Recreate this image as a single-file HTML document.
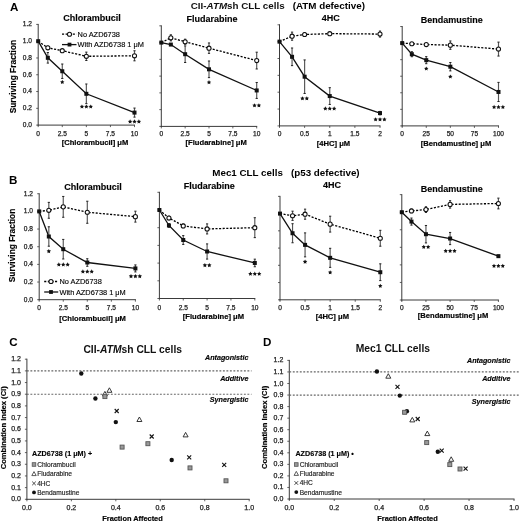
<!DOCTYPE html>
<html><head><meta charset="utf-8"><style>
html,body{margin:0;padding:0;background:#fff;}
svg{display:block;will-change:transform;}
text{font-family:"Liberation Sans", sans-serif;}
</style></head><body>
<svg width="520" height="522" viewBox="0 0 520 522">
<rect width="520" height="522" fill="#fff"/>
<line x1="38.20" y1="23.92" x2="38.20" y2="125.60" stroke="#3a3a3a" stroke-width="1" />
<line x1="37.70" y1="125.10" x2="135.00" y2="125.10" stroke="#3a3a3a" stroke-width="1" />
<line x1="36.20" y1="125.10" x2="38.20" y2="125.10" stroke="#3a3a3a" stroke-width="0.8" />
<line x1="36.20" y1="108.32" x2="38.20" y2="108.32" stroke="#3a3a3a" stroke-width="0.8" />
<line x1="36.20" y1="91.54" x2="38.20" y2="91.54" stroke="#3a3a3a" stroke-width="0.8" />
<line x1="36.20" y1="74.76" x2="38.20" y2="74.76" stroke="#3a3a3a" stroke-width="0.8" />
<line x1="36.20" y1="57.98" x2="38.20" y2="57.98" stroke="#3a3a3a" stroke-width="0.8" />
<line x1="36.20" y1="41.20" x2="38.20" y2="41.20" stroke="#3a3a3a" stroke-width="0.8" />
<line x1="36.20" y1="24.42" x2="38.20" y2="24.42" stroke="#3a3a3a" stroke-width="0.8" />
<line x1="38.20" y1="125.10" x2="38.20" y2="127.10" stroke="#3a3a3a" stroke-width="0.8" />
<line x1="62.28" y1="125.10" x2="62.28" y2="127.10" stroke="#3a3a3a" stroke-width="0.8" />
<line x1="86.35" y1="125.10" x2="86.35" y2="127.10" stroke="#3a3a3a" stroke-width="0.8" />
<line x1="110.43" y1="125.10" x2="110.43" y2="127.10" stroke="#3a3a3a" stroke-width="0.8" />
<line x1="134.50" y1="125.10" x2="134.50" y2="127.10" stroke="#3a3a3a" stroke-width="0.8" />
<text x="38.20" y="136.20" font-size="6.6" stroke="#222" stroke-width="0.25" text-anchor="middle" fill="#222" >0</text>
<text x="62.28" y="136.20" font-size="6.6" stroke="#222" stroke-width="0.25" text-anchor="middle" fill="#222" >2.5</text>
<text x="86.35" y="136.20" font-size="6.6" stroke="#222" stroke-width="0.25" text-anchor="middle" fill="#222" >5</text>
<text x="110.43" y="136.20" font-size="6.6" stroke="#222" stroke-width="0.25" text-anchor="middle" fill="#222" >7.5</text>
<text x="134.50" y="136.20" font-size="6.6" stroke="#222" stroke-width="0.25" text-anchor="middle" fill="#222" >10</text>
<text x="32.00" y="127.00" font-size="6.6" stroke="#222" stroke-width="0.25" text-anchor="end" fill="#222" >0.0</text>
<text x="32.00" y="110.22" font-size="6.6" stroke="#222" stroke-width="0.25" text-anchor="end" fill="#222" >0.2</text>
<text x="32.00" y="93.44" font-size="6.6" stroke="#222" stroke-width="0.25" text-anchor="end" fill="#222" >0.4</text>
<text x="32.00" y="76.66" font-size="6.6" stroke="#222" stroke-width="0.25" text-anchor="end" fill="#222" >0.6</text>
<text x="32.00" y="59.88" font-size="6.6" stroke="#222" stroke-width="0.25" text-anchor="end" fill="#222" >0.8</text>
<text x="32.00" y="43.10" font-size="6.6" stroke="#222" stroke-width="0.25" text-anchor="end" fill="#222" >1.0</text>
<text x="32.00" y="26.32" font-size="6.6" stroke="#222" stroke-width="0.25" text-anchor="end" fill="#222" >1.2</text>
<polyline points="38.20,41.20 47.83,47.83 62.28,50.68 86.35,56.30 134.50,55.80" fill="none" stroke="#000" stroke-width="1.3" stroke-dasharray="2.1,1.5"/>
<polyline points="38.20,41.20 47.83,57.81 62.28,71.24 86.35,93.81 134.50,112.60" fill="none" stroke="#111" stroke-width="1.3"/>
<line x1="47.83" y1="46.15" x2="47.83" y2="49.51" stroke="#555" stroke-width="1.15" />
<line x1="46.73" y1="46.15" x2="48.93" y2="46.15" stroke="#222" stroke-width="1" />
<line x1="46.73" y1="49.51" x2="48.93" y2="49.51" stroke="#222" stroke-width="1" />
<line x1="62.28" y1="49.42" x2="62.28" y2="51.94" stroke="#555" stroke-width="1.15" />
<line x1="61.18" y1="49.42" x2="63.38" y2="49.42" stroke="#222" stroke-width="1" />
<line x1="61.18" y1="51.94" x2="63.38" y2="51.94" stroke="#222" stroke-width="1" />
<line x1="86.35" y1="52.11" x2="86.35" y2="60.50" stroke="#555" stroke-width="1.15" />
<line x1="85.25" y1="52.11" x2="87.45" y2="52.11" stroke="#222" stroke-width="1" />
<line x1="85.25" y1="60.50" x2="87.45" y2="60.50" stroke="#222" stroke-width="1" />
<line x1="134.50" y1="50.76" x2="134.50" y2="60.83" stroke="#555" stroke-width="1.15" />
<line x1="133.40" y1="50.76" x2="135.60" y2="50.76" stroke="#222" stroke-width="1" />
<line x1="133.40" y1="60.83" x2="135.60" y2="60.83" stroke="#222" stroke-width="1" />
<line x1="47.83" y1="52.53" x2="47.83" y2="63.10" stroke="#555" stroke-width="1.15" />
<line x1="46.73" y1="52.53" x2="48.93" y2="52.53" stroke="#222" stroke-width="1" />
<line x1="46.73" y1="63.10" x2="48.93" y2="63.10" stroke="#222" stroke-width="1" />
<line x1="62.28" y1="64.02" x2="62.28" y2="78.45" stroke="#555" stroke-width="1.15" />
<line x1="61.18" y1="64.02" x2="63.38" y2="64.02" stroke="#222" stroke-width="1" />
<line x1="61.18" y1="78.45" x2="63.38" y2="78.45" stroke="#222" stroke-width="1" />
<line x1="86.35" y1="83.99" x2="86.35" y2="103.62" stroke="#555" stroke-width="1.15" />
<line x1="85.25" y1="83.99" x2="87.45" y2="83.99" stroke="#222" stroke-width="1" />
<line x1="85.25" y1="103.62" x2="87.45" y2="103.62" stroke="#222" stroke-width="1" />
<line x1="134.50" y1="108.07" x2="134.50" y2="117.13" stroke="#555" stroke-width="1.15" />
<line x1="133.40" y1="108.07" x2="135.60" y2="108.07" stroke="#222" stroke-width="1" />
<line x1="133.40" y1="117.13" x2="135.60" y2="117.13" stroke="#222" stroke-width="1" />
<circle cx="47.83" cy="47.83" r="2.05" fill="#fff" stroke="#111" stroke-width="1.05"/>
<circle cx="62.28" cy="50.68" r="2.05" fill="#fff" stroke="#111" stroke-width="1.05"/>
<circle cx="86.35" cy="56.30" r="2.05" fill="#fff" stroke="#111" stroke-width="1.05"/>
<circle cx="134.50" cy="55.80" r="2.05" fill="#fff" stroke="#111" stroke-width="1.05"/>
<rect x="36.20" y="39.20" width="4.0" height="4.0" fill="#111"/>
<rect x="45.83" y="55.81" width="4.0" height="4.0" fill="#111"/>
<rect x="60.28" y="69.24" width="4.0" height="4.0" fill="#111"/>
<rect x="84.35" y="91.81" width="4.0" height="4.0" fill="#111"/>
<rect x="132.50" y="110.60" width="4.0" height="4.0" fill="#111"/>
<polygon points="62.28,79.80 62.95,81.17 64.46,81.39 63.37,82.46 63.63,83.96 62.28,83.25 60.92,83.96 61.18,82.46 60.09,81.39 61.60,81.17" fill="#111"/>
<polygon points="81.95,104.40 82.63,105.77 84.14,105.99 83.04,107.06 83.30,108.56 81.95,107.85 80.60,108.56 80.86,107.06 79.76,105.99 81.27,105.77" fill="#111"/>
<polygon points="86.35,104.40 87.03,105.77 88.54,105.99 87.44,107.06 87.70,108.56 86.35,107.85 85.00,108.56 85.26,107.06 84.16,105.99 85.67,105.77" fill="#111"/>
<polygon points="90.75,104.40 91.43,105.77 92.94,105.99 91.84,107.06 92.10,108.56 90.75,107.85 89.40,108.56 89.66,107.06 88.56,105.99 90.07,105.77" fill="#111"/>
<polygon points="130.10,119.30 130.78,120.67 132.29,120.89 131.19,121.96 131.45,123.46 130.10,122.75 128.75,123.46 129.01,121.96 127.91,120.89 129.42,120.67" fill="#111"/>
<polygon points="134.50,119.30 135.18,120.67 136.69,120.89 135.59,121.96 135.85,123.46 134.50,122.75 133.15,123.46 133.41,121.96 132.31,120.89 133.82,120.67" fill="#111"/>
<polygon points="138.90,119.30 139.58,120.67 141.09,120.89 139.99,121.96 140.25,123.46 138.90,122.75 137.55,123.46 137.81,121.96 136.71,120.89 138.22,120.67" fill="#111"/>
<text x="92.10" y="21.10" font-size="9" stroke="#111" stroke-width="0.15" font-weight="bold" text-anchor="middle" >Chlorambucil</text>
<text x="95.00" y="144.50" font-size="7.6" stroke="#111" stroke-width="0.2" font-weight="bold" text-anchor="middle" >[Chlorambucil] μM</text>
<line x1="161.30" y1="25.34" x2="161.30" y2="126.90" stroke="#3a3a3a" stroke-width="1" />
<line x1="160.80" y1="126.40" x2="257.20" y2="126.40" stroke="#3a3a3a" stroke-width="1" />
<line x1="159.30" y1="126.40" x2="161.30" y2="126.40" stroke="#3a3a3a" stroke-width="0.8" />
<line x1="159.30" y1="109.64" x2="161.30" y2="109.64" stroke="#3a3a3a" stroke-width="0.8" />
<line x1="159.30" y1="92.88" x2="161.30" y2="92.88" stroke="#3a3a3a" stroke-width="0.8" />
<line x1="159.30" y1="76.12" x2="161.30" y2="76.12" stroke="#3a3a3a" stroke-width="0.8" />
<line x1="159.30" y1="59.36" x2="161.30" y2="59.36" stroke="#3a3a3a" stroke-width="0.8" />
<line x1="159.30" y1="42.60" x2="161.30" y2="42.60" stroke="#3a3a3a" stroke-width="0.8" />
<line x1="159.30" y1="25.84" x2="161.30" y2="25.84" stroke="#3a3a3a" stroke-width="0.8" />
<line x1="161.30" y1="126.40" x2="161.30" y2="128.40" stroke="#3a3a3a" stroke-width="0.8" />
<line x1="185.15" y1="126.40" x2="185.15" y2="128.40" stroke="#3a3a3a" stroke-width="0.8" />
<line x1="209.00" y1="126.40" x2="209.00" y2="128.40" stroke="#3a3a3a" stroke-width="0.8" />
<line x1="232.85" y1="126.40" x2="232.85" y2="128.40" stroke="#3a3a3a" stroke-width="0.8" />
<line x1="256.70" y1="126.40" x2="256.70" y2="128.40" stroke="#3a3a3a" stroke-width="0.8" />
<text x="161.30" y="136.20" font-size="6.6" stroke="#222" stroke-width="0.25" text-anchor="middle" fill="#222" >0</text>
<text x="185.15" y="136.20" font-size="6.6" stroke="#222" stroke-width="0.25" text-anchor="middle" fill="#222" >2.5</text>
<text x="209.00" y="136.20" font-size="6.6" stroke="#222" stroke-width="0.25" text-anchor="middle" fill="#222" >5</text>
<text x="232.85" y="136.20" font-size="6.6" stroke="#222" stroke-width="0.25" text-anchor="middle" fill="#222" >7.5</text>
<text x="256.70" y="136.20" font-size="6.6" stroke="#222" stroke-width="0.25" text-anchor="middle" fill="#222" >10</text>
<polyline points="161.30,42.60 170.84,37.84 185.15,41.70 209.00,48.16 256.70,60.58" fill="none" stroke="#000" stroke-width="1.3" stroke-dasharray="2.1,1.5"/>
<polyline points="161.30,42.60 170.84,44.56 185.15,54.20 209.00,69.31 256.70,90.45" fill="none" stroke="#111" stroke-width="1.3"/>
<line x1="170.84" y1="34.82" x2="170.84" y2="40.86" stroke="#555" stroke-width="1.15" />
<line x1="169.74" y1="34.82" x2="171.94" y2="34.82" stroke="#222" stroke-width="1" />
<line x1="169.74" y1="40.86" x2="171.94" y2="40.86" stroke="#222" stroke-width="1" />
<line x1="185.15" y1="39.19" x2="185.15" y2="44.22" stroke="#555" stroke-width="1.15" />
<line x1="184.05" y1="39.19" x2="186.25" y2="39.19" stroke="#222" stroke-width="1" />
<line x1="184.05" y1="44.22" x2="186.25" y2="44.22" stroke="#222" stroke-width="1" />
<line x1="209.00" y1="42.96" x2="209.00" y2="53.37" stroke="#555" stroke-width="1.15" />
<line x1="207.90" y1="42.96" x2="210.10" y2="42.96" stroke="#222" stroke-width="1" />
<line x1="207.90" y1="53.37" x2="210.10" y2="53.37" stroke="#222" stroke-width="1" />
<line x1="256.70" y1="52.19" x2="256.70" y2="68.97" stroke="#555" stroke-width="1.15" />
<line x1="255.60" y1="52.19" x2="257.80" y2="52.19" stroke="#222" stroke-width="1" />
<line x1="255.60" y1="68.97" x2="257.80" y2="68.97" stroke="#222" stroke-width="1" />
<line x1="170.84" y1="43.72" x2="170.84" y2="45.39" stroke="#555" stroke-width="1.15" />
<line x1="169.74" y1="43.72" x2="171.94" y2="43.72" stroke="#222" stroke-width="1" />
<line x1="169.74" y1="45.39" x2="171.94" y2="45.39" stroke="#222" stroke-width="1" />
<line x1="185.15" y1="45.90" x2="185.15" y2="62.51" stroke="#555" stroke-width="1.15" />
<line x1="184.05" y1="45.90" x2="186.25" y2="45.90" stroke="#222" stroke-width="1" />
<line x1="184.05" y1="62.51" x2="186.25" y2="62.51" stroke="#222" stroke-width="1" />
<line x1="209.00" y1="61.00" x2="209.00" y2="77.61" stroke="#555" stroke-width="1.15" />
<line x1="207.90" y1="61.00" x2="210.10" y2="61.00" stroke="#222" stroke-width="1" />
<line x1="207.90" y1="77.61" x2="210.10" y2="77.61" stroke="#222" stroke-width="1" />
<line x1="256.70" y1="82.48" x2="256.70" y2="98.42" stroke="#555" stroke-width="1.15" />
<line x1="255.60" y1="82.48" x2="257.80" y2="82.48" stroke="#222" stroke-width="1" />
<line x1="255.60" y1="98.42" x2="257.80" y2="98.42" stroke="#222" stroke-width="1" />
<circle cx="170.84" cy="37.84" r="2.05" fill="#fff" stroke="#111" stroke-width="1.05"/>
<circle cx="185.15" cy="41.70" r="2.05" fill="#fff" stroke="#111" stroke-width="1.05"/>
<circle cx="209.00" cy="48.16" r="2.05" fill="#fff" stroke="#111" stroke-width="1.05"/>
<circle cx="256.70" cy="60.58" r="2.05" fill="#fff" stroke="#111" stroke-width="1.05"/>
<rect x="159.30" y="40.60" width="4.0" height="4.0" fill="#111"/>
<rect x="168.84" y="42.56" width="4.0" height="4.0" fill="#111"/>
<rect x="183.15" y="52.20" width="4.0" height="4.0" fill="#111"/>
<rect x="207.00" y="67.31" width="4.0" height="4.0" fill="#111"/>
<rect x="254.70" y="88.45" width="4.0" height="4.0" fill="#111"/>
<polygon points="209.00,80.10 209.68,81.47 211.19,81.69 210.09,82.76 210.35,84.26 209.00,83.55 207.65,84.26 207.91,82.76 206.81,81.69 208.32,81.47" fill="#111"/>
<polygon points="254.50,103.20 255.18,104.57 256.69,104.79 255.59,105.86 255.85,107.36 254.50,106.65 253.15,107.36 253.41,105.86 252.31,104.79 253.82,104.57" fill="#111"/>
<polygon points="258.90,103.20 259.58,104.57 261.09,104.79 259.99,105.86 260.25,107.36 258.90,106.65 257.55,107.36 257.81,105.86 256.71,104.79 258.22,104.57" fill="#111"/>
<text x="211.90" y="22.00" font-size="9" stroke="#111" stroke-width="0.15" font-weight="bold" text-anchor="middle" >Fludarabine</text>
<text x="216.20" y="145.40" font-size="7.6" stroke="#111" stroke-width="0.2" font-weight="bold" text-anchor="middle" >[Fludarabine] μM</text>
<line x1="279.50" y1="24.30" x2="279.50" y2="126.40" stroke="#3a3a3a" stroke-width="1" />
<line x1="279.00" y1="125.90" x2="380.50" y2="125.90" stroke="#3a3a3a" stroke-width="1" />
<line x1="277.50" y1="125.90" x2="279.50" y2="125.90" stroke="#3a3a3a" stroke-width="0.8" />
<line x1="277.50" y1="109.05" x2="279.50" y2="109.05" stroke="#3a3a3a" stroke-width="0.8" />
<line x1="277.50" y1="92.20" x2="279.50" y2="92.20" stroke="#3a3a3a" stroke-width="0.8" />
<line x1="277.50" y1="75.35" x2="279.50" y2="75.35" stroke="#3a3a3a" stroke-width="0.8" />
<line x1="277.50" y1="58.50" x2="279.50" y2="58.50" stroke="#3a3a3a" stroke-width="0.8" />
<line x1="277.50" y1="41.65" x2="279.50" y2="41.65" stroke="#3a3a3a" stroke-width="0.8" />
<line x1="277.50" y1="24.80" x2="279.50" y2="24.80" stroke="#3a3a3a" stroke-width="0.8" />
<line x1="279.50" y1="125.90" x2="279.50" y2="127.90" stroke="#3a3a3a" stroke-width="0.8" />
<line x1="304.62" y1="125.90" x2="304.62" y2="127.90" stroke="#3a3a3a" stroke-width="0.8" />
<line x1="329.75" y1="125.90" x2="329.75" y2="127.90" stroke="#3a3a3a" stroke-width="0.8" />
<line x1="354.88" y1="125.90" x2="354.88" y2="127.90" stroke="#3a3a3a" stroke-width="0.8" />
<line x1="380.00" y1="125.90" x2="380.00" y2="127.90" stroke="#3a3a3a" stroke-width="0.8" />
<text x="279.50" y="136.20" font-size="6.6" stroke="#222" stroke-width="0.25" text-anchor="middle" fill="#222" >0</text>
<text x="304.62" y="136.20" font-size="6.6" stroke="#222" stroke-width="0.25" text-anchor="middle" fill="#222" >0.5</text>
<text x="329.75" y="136.20" font-size="6.6" stroke="#222" stroke-width="0.25" text-anchor="middle" fill="#222" >1</text>
<text x="354.88" y="136.20" font-size="6.6" stroke="#222" stroke-width="0.25" text-anchor="middle" fill="#222" >1.5</text>
<text x="380.00" y="136.20" font-size="6.6" stroke="#222" stroke-width="0.25" text-anchor="middle" fill="#222" >2</text>
<polyline points="279.50,41.65 292.06,36.17 304.62,34.49 329.75,33.65 380.00,34.07" fill="none" stroke="#000" stroke-width="1.3" stroke-dasharray="2.1,1.5"/>
<polyline points="279.50,41.65 292.06,56.81 304.62,76.69 329.75,96.07 380.00,113.10" fill="none" stroke="#111" stroke-width="1.3"/>
<line x1="292.06" y1="32.14" x2="292.06" y2="40.19" stroke="#555" stroke-width="1.15" />
<line x1="290.96" y1="32.14" x2="293.16" y2="32.14" stroke="#222" stroke-width="1" />
<line x1="290.96" y1="40.19" x2="293.16" y2="40.19" stroke="#222" stroke-width="1" />
<line x1="304.62" y1="32.81" x2="304.62" y2="36.17" stroke="#555" stroke-width="1.15" />
<line x1="303.52" y1="32.81" x2="305.73" y2="32.81" stroke="#222" stroke-width="1" />
<line x1="303.52" y1="36.17" x2="305.73" y2="36.17" stroke="#222" stroke-width="1" />
<line x1="329.75" y1="32.39" x2="329.75" y2="34.91" stroke="#555" stroke-width="1.15" />
<line x1="328.65" y1="32.39" x2="330.85" y2="32.39" stroke="#222" stroke-width="1" />
<line x1="328.65" y1="34.91" x2="330.85" y2="34.91" stroke="#222" stroke-width="1" />
<line x1="380.00" y1="31.05" x2="380.00" y2="37.09" stroke="#555" stroke-width="1.15" />
<line x1="378.90" y1="31.05" x2="381.10" y2="31.05" stroke="#222" stroke-width="1" />
<line x1="378.90" y1="37.09" x2="381.10" y2="37.09" stroke="#222" stroke-width="1" />
<line x1="292.06" y1="48.00" x2="292.06" y2="65.61" stroke="#555" stroke-width="1.15" />
<line x1="290.96" y1="48.00" x2="293.16" y2="48.00" stroke="#222" stroke-width="1" />
<line x1="290.96" y1="65.61" x2="293.16" y2="65.61" stroke="#222" stroke-width="1" />
<line x1="304.62" y1="59.91" x2="304.62" y2="93.47" stroke="#555" stroke-width="1.15" />
<line x1="303.52" y1="59.91" x2="305.73" y2="59.91" stroke="#222" stroke-width="1" />
<line x1="303.52" y1="93.47" x2="305.73" y2="93.47" stroke="#222" stroke-width="1" />
<line x1="329.75" y1="87.68" x2="329.75" y2="104.46" stroke="#555" stroke-width="1.15" />
<line x1="328.65" y1="87.68" x2="330.85" y2="87.68" stroke="#222" stroke-width="1" />
<line x1="328.65" y1="104.46" x2="330.85" y2="104.46" stroke="#222" stroke-width="1" />
<line x1="380.00" y1="111.42" x2="380.00" y2="114.78" stroke="#555" stroke-width="1.15" />
<line x1="378.90" y1="111.42" x2="381.10" y2="111.42" stroke="#222" stroke-width="1" />
<line x1="378.90" y1="114.78" x2="381.10" y2="114.78" stroke="#222" stroke-width="1" />
<circle cx="292.06" cy="36.17" r="2.05" fill="#fff" stroke="#111" stroke-width="1.05"/>
<circle cx="304.62" cy="34.49" r="2.05" fill="#fff" stroke="#111" stroke-width="1.05"/>
<circle cx="329.75" cy="33.65" r="2.05" fill="#fff" stroke="#111" stroke-width="1.05"/>
<circle cx="380.00" cy="34.07" r="2.05" fill="#fff" stroke="#111" stroke-width="1.05"/>
<rect x="277.50" y="39.65" width="4.0" height="4.0" fill="#111"/>
<rect x="290.06" y="54.81" width="4.0" height="4.0" fill="#111"/>
<rect x="302.62" y="74.69" width="4.0" height="4.0" fill="#111"/>
<rect x="327.75" y="94.07" width="4.0" height="4.0" fill="#111"/>
<rect x="378.00" y="111.10" width="4.0" height="4.0" fill="#111"/>
<polygon points="302.43,96.20 303.10,97.57 304.61,97.79 303.52,98.86 303.78,100.36 302.43,99.65 301.07,100.36 301.33,98.86 300.24,97.79 301.75,97.57" fill="#111"/>
<polygon points="306.82,96.20 307.50,97.57 309.01,97.79 307.92,98.86 308.18,100.36 306.82,99.65 305.47,100.36 305.73,98.86 304.64,97.79 306.15,97.57" fill="#111"/>
<polygon points="325.35,106.30 326.03,107.67 327.54,107.89 326.44,108.96 326.70,110.46 325.35,109.75 324.00,110.46 324.26,108.96 323.16,107.89 324.67,107.67" fill="#111"/>
<polygon points="329.75,106.30 330.43,107.67 331.94,107.89 330.84,108.96 331.10,110.46 329.75,109.75 328.40,110.46 328.66,108.96 327.56,107.89 329.07,107.67" fill="#111"/>
<polygon points="334.15,106.30 334.83,107.67 336.34,107.89 335.24,108.96 335.50,110.46 334.15,109.75 332.80,110.46 333.06,108.96 331.96,107.89 333.47,107.67" fill="#111"/>
<polygon points="375.60,117.20 376.28,118.57 377.79,118.79 376.69,119.86 376.95,121.36 375.60,120.65 374.25,121.36 374.51,119.86 373.41,118.79 374.92,118.57" fill="#111"/>
<polygon points="380.00,117.20 380.68,118.57 382.19,118.79 381.09,119.86 381.35,121.36 380.00,120.65 378.65,121.36 378.91,119.86 377.81,118.79 379.32,118.57" fill="#111"/>
<polygon points="384.40,117.20 385.08,118.57 386.59,118.79 385.49,119.86 385.75,121.36 384.40,120.65 383.05,121.36 383.31,119.86 382.21,118.79 383.72,118.57" fill="#111"/>
<text x="330.80" y="21.10" font-size="9" stroke="#111" stroke-width="0.15" font-weight="bold" text-anchor="middle" >4HC</text>
<text x="333.50" y="146.00" font-size="7.6" stroke="#111" stroke-width="0.2" font-weight="bold" text-anchor="middle" >[4HC] μM</text>
<line x1="402.20" y1="26.04" x2="402.20" y2="126.40" stroke="#3a3a3a" stroke-width="1" />
<line x1="401.70" y1="125.90" x2="499.00" y2="125.90" stroke="#3a3a3a" stroke-width="1" />
<line x1="400.20" y1="125.90" x2="402.20" y2="125.90" stroke="#3a3a3a" stroke-width="0.8" />
<line x1="400.20" y1="109.34" x2="402.20" y2="109.34" stroke="#3a3a3a" stroke-width="0.8" />
<line x1="400.20" y1="92.78" x2="402.20" y2="92.78" stroke="#3a3a3a" stroke-width="0.8" />
<line x1="400.20" y1="76.22" x2="402.20" y2="76.22" stroke="#3a3a3a" stroke-width="0.8" />
<line x1="400.20" y1="59.66" x2="402.20" y2="59.66" stroke="#3a3a3a" stroke-width="0.8" />
<line x1="400.20" y1="43.10" x2="402.20" y2="43.10" stroke="#3a3a3a" stroke-width="0.8" />
<line x1="400.20" y1="26.54" x2="402.20" y2="26.54" stroke="#3a3a3a" stroke-width="0.8" />
<line x1="402.20" y1="125.90" x2="402.20" y2="127.90" stroke="#3a3a3a" stroke-width="0.8" />
<line x1="426.27" y1="125.90" x2="426.27" y2="127.90" stroke="#3a3a3a" stroke-width="0.8" />
<line x1="450.35" y1="125.90" x2="450.35" y2="127.90" stroke="#3a3a3a" stroke-width="0.8" />
<line x1="474.42" y1="125.90" x2="474.42" y2="127.90" stroke="#3a3a3a" stroke-width="0.8" />
<line x1="498.50" y1="125.90" x2="498.50" y2="127.90" stroke="#3a3a3a" stroke-width="0.8" />
<text x="402.20" y="136.20" font-size="6.6" stroke="#222" stroke-width="0.25" text-anchor="middle" fill="#222" >0</text>
<text x="426.27" y="136.20" font-size="6.6" stroke="#222" stroke-width="0.25" text-anchor="middle" fill="#222" >25</text>
<text x="450.35" y="136.20" font-size="6.6" stroke="#222" stroke-width="0.25" text-anchor="middle" fill="#222" >50</text>
<text x="474.42" y="136.20" font-size="6.6" stroke="#222" stroke-width="0.25" text-anchor="middle" fill="#222" >75</text>
<text x="498.50" y="136.20" font-size="6.6" stroke="#222" stroke-width="0.25" text-anchor="middle" fill="#222" >100</text>
<polyline points="402.20,43.10 411.83,43.72 426.27,44.56 450.35,45.14 498.50,49.09" fill="none" stroke="#000" stroke-width="1.3" stroke-dasharray="2.1,1.5"/>
<polyline points="402.20,43.10 411.83,54.20 426.27,60.16 450.35,66.71 498.50,91.96" fill="none" stroke="#111" stroke-width="1.3"/>
<line x1="411.83" y1="42.88" x2="411.83" y2="44.56" stroke="#555" stroke-width="1.15" />
<line x1="410.73" y1="42.88" x2="412.93" y2="42.88" stroke="#222" stroke-width="1" />
<line x1="410.73" y1="44.56" x2="412.93" y2="44.56" stroke="#222" stroke-width="1" />
<line x1="426.27" y1="43.72" x2="426.27" y2="45.39" stroke="#555" stroke-width="1.15" />
<line x1="425.17" y1="43.72" x2="427.38" y2="43.72" stroke="#222" stroke-width="1" />
<line x1="425.17" y1="45.39" x2="427.38" y2="45.39" stroke="#222" stroke-width="1" />
<line x1="450.35" y1="40.95" x2="450.35" y2="49.34" stroke="#555" stroke-width="1.15" />
<line x1="449.25" y1="40.95" x2="451.45" y2="40.95" stroke="#222" stroke-width="1" />
<line x1="449.25" y1="49.34" x2="451.45" y2="49.34" stroke="#222" stroke-width="1" />
<line x1="498.50" y1="42.12" x2="498.50" y2="56.05" stroke="#555" stroke-width="1.15" />
<line x1="497.40" y1="42.12" x2="499.60" y2="42.12" stroke="#222" stroke-width="1" />
<line x1="497.40" y1="56.05" x2="499.60" y2="56.05" stroke="#222" stroke-width="1" />
<line x1="411.83" y1="51.69" x2="411.83" y2="56.72" stroke="#555" stroke-width="1.15" />
<line x1="410.73" y1="51.69" x2="412.93" y2="51.69" stroke="#222" stroke-width="1" />
<line x1="410.73" y1="56.72" x2="412.93" y2="56.72" stroke="#222" stroke-width="1" />
<line x1="426.27" y1="56.64" x2="426.27" y2="63.69" stroke="#555" stroke-width="1.15" />
<line x1="425.17" y1="56.64" x2="427.38" y2="56.64" stroke="#222" stroke-width="1" />
<line x1="425.17" y1="63.69" x2="427.38" y2="63.69" stroke="#222" stroke-width="1" />
<line x1="450.35" y1="62.51" x2="450.35" y2="70.90" stroke="#555" stroke-width="1.15" />
<line x1="449.25" y1="62.51" x2="451.45" y2="62.51" stroke="#222" stroke-width="1" />
<line x1="449.25" y1="70.90" x2="451.45" y2="70.90" stroke="#222" stroke-width="1" />
<line x1="498.50" y1="82.39" x2="498.50" y2="101.52" stroke="#555" stroke-width="1.15" />
<line x1="497.40" y1="82.39" x2="499.60" y2="82.39" stroke="#222" stroke-width="1" />
<line x1="497.40" y1="101.52" x2="499.60" y2="101.52" stroke="#222" stroke-width="1" />
<circle cx="411.83" cy="43.72" r="2.05" fill="#fff" stroke="#111" stroke-width="1.05"/>
<circle cx="426.27" cy="44.56" r="2.05" fill="#fff" stroke="#111" stroke-width="1.05"/>
<circle cx="450.35" cy="45.14" r="2.05" fill="#fff" stroke="#111" stroke-width="1.05"/>
<circle cx="498.50" cy="49.09" r="2.05" fill="#fff" stroke="#111" stroke-width="1.05"/>
<rect x="400.20" y="41.10" width="4.0" height="4.0" fill="#111"/>
<rect x="409.83" y="52.20" width="4.0" height="4.0" fill="#111"/>
<rect x="424.27" y="58.16" width="4.0" height="4.0" fill="#111"/>
<rect x="448.35" y="64.71" width="4.0" height="4.0" fill="#111"/>
<rect x="496.50" y="89.96" width="4.0" height="4.0" fill="#111"/>
<polygon points="426.27,66.40 426.95,67.77 428.46,67.99 427.37,69.06 427.63,70.56 426.27,69.85 424.92,70.56 425.18,69.06 424.09,67.99 425.60,67.77" fill="#111"/>
<polygon points="450.35,74.40 451.03,75.77 452.54,75.99 451.44,77.06 451.70,78.56 450.35,77.85 449.00,78.56 449.26,77.06 448.16,75.99 449.67,75.77" fill="#111"/>
<polygon points="494.10,104.80 494.78,106.17 496.29,106.39 495.19,107.46 495.45,108.96 494.10,108.25 492.75,108.96 493.01,107.46 491.91,106.39 493.42,106.17" fill="#111"/>
<polygon points="498.50,104.80 499.18,106.17 500.69,106.39 499.59,107.46 499.85,108.96 498.50,108.25 497.15,108.96 497.41,107.46 496.31,106.39 497.82,106.17" fill="#111"/>
<polygon points="502.90,104.80 503.58,106.17 505.09,106.39 503.99,107.46 504.25,108.96 502.90,108.25 501.55,108.96 501.81,107.46 500.71,106.39 502.22,106.17" fill="#111"/>
<text x="451.80" y="23.20" font-size="9" stroke="#111" stroke-width="0.15" font-weight="bold" text-anchor="middle" >Bendamustine</text>
<text x="456.00" y="145.80" font-size="7.6" stroke="#111" stroke-width="0.2" font-weight="bold" text-anchor="middle" >[Bendamustine] μM</text>
<line x1="39.20" y1="193.24" x2="39.20" y2="300.20" stroke="#3a3a3a" stroke-width="1" />
<line x1="38.70" y1="299.70" x2="135.90" y2="299.70" stroke="#3a3a3a" stroke-width="1" />
<line x1="37.20" y1="299.70" x2="39.20" y2="299.70" stroke="#3a3a3a" stroke-width="0.8" />
<line x1="37.20" y1="282.04" x2="39.20" y2="282.04" stroke="#3a3a3a" stroke-width="0.8" />
<line x1="37.20" y1="264.38" x2="39.20" y2="264.38" stroke="#3a3a3a" stroke-width="0.8" />
<line x1="37.20" y1="246.72" x2="39.20" y2="246.72" stroke="#3a3a3a" stroke-width="0.8" />
<line x1="37.20" y1="229.06" x2="39.20" y2="229.06" stroke="#3a3a3a" stroke-width="0.8" />
<line x1="37.20" y1="211.40" x2="39.20" y2="211.40" stroke="#3a3a3a" stroke-width="0.8" />
<line x1="37.20" y1="193.74" x2="39.20" y2="193.74" stroke="#3a3a3a" stroke-width="0.8" />
<line x1="39.20" y1="299.70" x2="39.20" y2="301.70" stroke="#3a3a3a" stroke-width="0.8" />
<line x1="63.25" y1="299.70" x2="63.25" y2="301.70" stroke="#3a3a3a" stroke-width="0.8" />
<line x1="87.30" y1="299.70" x2="87.30" y2="301.70" stroke="#3a3a3a" stroke-width="0.8" />
<line x1="111.35" y1="299.70" x2="111.35" y2="301.70" stroke="#3a3a3a" stroke-width="0.8" />
<line x1="135.40" y1="299.70" x2="135.40" y2="301.70" stroke="#3a3a3a" stroke-width="0.8" />
<text x="39.20" y="309.60" font-size="6.6" stroke="#222" stroke-width="0.25" text-anchor="middle" fill="#222" >0</text>
<text x="63.25" y="309.60" font-size="6.6" stroke="#222" stroke-width="0.25" text-anchor="middle" fill="#222" >2.5</text>
<text x="87.30" y="309.60" font-size="6.6" stroke="#222" stroke-width="0.25" text-anchor="middle" fill="#222" >5</text>
<text x="111.35" y="309.60" font-size="6.6" stroke="#222" stroke-width="0.25" text-anchor="middle" fill="#222" >7.5</text>
<text x="135.40" y="309.60" font-size="6.6" stroke="#222" stroke-width="0.25" text-anchor="middle" fill="#222" >10</text>
<text x="33.00" y="301.60" font-size="6.6" stroke="#222" stroke-width="0.25" text-anchor="end" fill="#222" >0.0</text>
<text x="33.00" y="283.94" font-size="6.6" stroke="#222" stroke-width="0.25" text-anchor="end" fill="#222" >0.2</text>
<text x="33.00" y="266.28" font-size="6.6" stroke="#222" stroke-width="0.25" text-anchor="end" fill="#222" >0.4</text>
<text x="33.00" y="248.62" font-size="6.6" stroke="#222" stroke-width="0.25" text-anchor="end" fill="#222" >0.6</text>
<text x="33.00" y="230.96" font-size="6.6" stroke="#222" stroke-width="0.25" text-anchor="end" fill="#222" >0.8</text>
<text x="33.00" y="213.30" font-size="6.6" stroke="#222" stroke-width="0.25" text-anchor="end" fill="#222" >1.0</text>
<text x="33.00" y="195.64" font-size="6.6" stroke="#222" stroke-width="0.25" text-anchor="end" fill="#222" >1.2</text>
<polyline points="39.20,211.40 48.82,210.30 63.25,206.86 87.30,212.24 135.40,216.65" fill="none" stroke="#000" stroke-width="1.3" stroke-dasharray="2.1,1.5"/>
<polyline points="39.20,211.40 48.82,236.50 63.25,249.20 87.30,262.51 135.40,268.42" fill="none" stroke="#111" stroke-width="1.3"/>
<line x1="48.82" y1="202.36" x2="48.82" y2="218.24" stroke="#555" stroke-width="1.15" />
<line x1="47.72" y1="202.36" x2="49.92" y2="202.36" stroke="#222" stroke-width="1" />
<line x1="47.72" y1="218.24" x2="49.92" y2="218.24" stroke="#222" stroke-width="1" />
<line x1="63.25" y1="196.45" x2="63.25" y2="217.27" stroke="#555" stroke-width="1.15" />
<line x1="62.15" y1="196.45" x2="64.35" y2="196.45" stroke="#222" stroke-width="1" />
<line x1="62.15" y1="217.27" x2="64.35" y2="217.27" stroke="#222" stroke-width="1" />
<line x1="87.30" y1="201.22" x2="87.30" y2="223.27" stroke="#555" stroke-width="1.15" />
<line x1="86.20" y1="201.22" x2="88.40" y2="201.22" stroke="#222" stroke-width="1" />
<line x1="86.20" y1="223.27" x2="88.40" y2="223.27" stroke="#222" stroke-width="1" />
<line x1="135.40" y1="211.18" x2="135.40" y2="222.12" stroke="#555" stroke-width="1.15" />
<line x1="134.30" y1="211.18" x2="136.50" y2="211.18" stroke="#222" stroke-width="1" />
<line x1="134.30" y1="222.12" x2="136.50" y2="222.12" stroke="#222" stroke-width="1" />
<line x1="48.82" y1="226.79" x2="48.82" y2="246.20" stroke="#555" stroke-width="1.15" />
<line x1="47.72" y1="226.79" x2="49.92" y2="226.79" stroke="#222" stroke-width="1" />
<line x1="47.72" y1="246.20" x2="49.92" y2="246.20" stroke="#222" stroke-width="1" />
<line x1="63.25" y1="239.41" x2="63.25" y2="258.99" stroke="#555" stroke-width="1.15" />
<line x1="62.15" y1="239.41" x2="64.35" y2="239.41" stroke="#222" stroke-width="1" />
<line x1="62.15" y1="258.99" x2="64.35" y2="258.99" stroke="#222" stroke-width="1" />
<line x1="87.30" y1="258.72" x2="87.30" y2="266.31" stroke="#555" stroke-width="1.15" />
<line x1="86.20" y1="258.72" x2="88.40" y2="258.72" stroke="#222" stroke-width="1" />
<line x1="86.20" y1="266.31" x2="88.40" y2="266.31" stroke="#222" stroke-width="1" />
<line x1="135.40" y1="264.90" x2="135.40" y2="271.95" stroke="#555" stroke-width="1.15" />
<line x1="134.30" y1="264.90" x2="136.50" y2="264.90" stroke="#222" stroke-width="1" />
<line x1="134.30" y1="271.95" x2="136.50" y2="271.95" stroke="#222" stroke-width="1" />
<circle cx="48.82" cy="210.30" r="2.05" fill="#fff" stroke="#111" stroke-width="1.05"/>
<circle cx="63.25" cy="206.86" r="2.05" fill="#fff" stroke="#111" stroke-width="1.05"/>
<circle cx="87.30" cy="212.24" r="2.05" fill="#fff" stroke="#111" stroke-width="1.05"/>
<circle cx="135.40" cy="216.65" r="2.05" fill="#fff" stroke="#111" stroke-width="1.05"/>
<rect x="37.20" y="209.40" width="4.0" height="4.0" fill="#111"/>
<rect x="46.82" y="234.50" width="4.0" height="4.0" fill="#111"/>
<rect x="61.25" y="247.20" width="4.0" height="4.0" fill="#111"/>
<rect x="85.30" y="260.51" width="4.0" height="4.0" fill="#111"/>
<rect x="133.40" y="266.42" width="4.0" height="4.0" fill="#111"/>
<polygon points="48.82,249.00 49.50,250.37 51.01,250.59 49.91,251.66 50.17,253.16 48.82,252.45 47.47,253.16 47.73,251.66 46.63,250.59 48.14,250.37" fill="#111"/>
<polygon points="58.85,262.30 59.53,263.67 61.04,263.89 59.94,264.96 60.20,266.46 58.85,265.75 57.50,266.46 57.76,264.96 56.66,263.89 58.17,263.67" fill="#111"/>
<polygon points="63.25,262.30 63.93,263.67 65.44,263.89 64.34,264.96 64.60,266.46 63.25,265.75 61.90,266.46 62.16,264.96 61.06,263.89 62.57,263.67" fill="#111"/>
<polygon points="67.65,262.30 68.33,263.67 69.84,263.89 68.74,264.96 69.00,266.46 67.65,265.75 66.30,266.46 66.56,264.96 65.46,263.89 66.97,263.67" fill="#111"/>
<polygon points="82.90,269.30 83.58,270.67 85.09,270.89 83.99,271.96 84.25,273.46 82.90,272.75 81.55,273.46 81.81,271.96 80.71,270.89 82.22,270.67" fill="#111"/>
<polygon points="87.30,269.30 87.98,270.67 89.49,270.89 88.39,271.96 88.65,273.46 87.30,272.75 85.95,273.46 86.21,271.96 85.11,270.89 86.62,270.67" fill="#111"/>
<polygon points="91.70,269.30 92.38,270.67 93.89,270.89 92.79,271.96 93.05,273.46 91.70,272.75 90.35,273.46 90.61,271.96 89.51,270.89 91.02,270.67" fill="#111"/>
<polygon points="131.00,274.00 131.68,275.37 133.19,275.59 132.09,276.66 132.35,278.16 131.00,277.45 129.65,278.16 129.91,276.66 128.81,275.59 130.32,275.37" fill="#111"/>
<polygon points="135.40,274.00 136.08,275.37 137.59,275.59 136.49,276.66 136.75,278.16 135.40,277.45 134.05,278.16 134.31,276.66 133.21,275.59 134.72,275.37" fill="#111"/>
<polygon points="139.80,274.00 140.48,275.37 141.99,275.59 140.89,276.66 141.15,278.16 139.80,277.45 138.45,278.16 138.71,276.66 137.61,275.59 139.12,275.37" fill="#111"/>
<text x="92.90" y="190.10" font-size="9" stroke="#111" stroke-width="0.15" font-weight="bold" text-anchor="middle" >Chlorambucil</text>
<text x="92.60" y="321.00" font-size="7.6" stroke="#111" stroke-width="0.2" font-weight="bold" text-anchor="middle" >[Chlorambucil] μM</text>
<line x1="159.40" y1="191.80" x2="159.40" y2="299.00" stroke="#3a3a3a" stroke-width="1" />
<line x1="158.90" y1="298.50" x2="255.30" y2="298.50" stroke="#3a3a3a" stroke-width="1" />
<line x1="157.40" y1="298.50" x2="159.40" y2="298.50" stroke="#3a3a3a" stroke-width="0.8" />
<line x1="157.40" y1="280.80" x2="159.40" y2="280.80" stroke="#3a3a3a" stroke-width="0.8" />
<line x1="157.40" y1="263.10" x2="159.40" y2="263.10" stroke="#3a3a3a" stroke-width="0.8" />
<line x1="157.40" y1="245.40" x2="159.40" y2="245.40" stroke="#3a3a3a" stroke-width="0.8" />
<line x1="157.40" y1="227.70" x2="159.40" y2="227.70" stroke="#3a3a3a" stroke-width="0.8" />
<line x1="157.40" y1="210.00" x2="159.40" y2="210.00" stroke="#3a3a3a" stroke-width="0.8" />
<line x1="157.40" y1="192.30" x2="159.40" y2="192.30" stroke="#3a3a3a" stroke-width="0.8" />
<line x1="159.40" y1="298.50" x2="159.40" y2="300.50" stroke="#3a3a3a" stroke-width="0.8" />
<line x1="183.25" y1="298.50" x2="183.25" y2="300.50" stroke="#3a3a3a" stroke-width="0.8" />
<line x1="207.10" y1="298.50" x2="207.10" y2="300.50" stroke="#3a3a3a" stroke-width="0.8" />
<line x1="230.95" y1="298.50" x2="230.95" y2="300.50" stroke="#3a3a3a" stroke-width="0.8" />
<line x1="254.80" y1="298.50" x2="254.80" y2="300.50" stroke="#3a3a3a" stroke-width="0.8" />
<text x="159.40" y="309.60" font-size="6.6" stroke="#222" stroke-width="0.25" text-anchor="middle" fill="#222" >0</text>
<text x="183.25" y="309.60" font-size="6.6" stroke="#222" stroke-width="0.25" text-anchor="middle" fill="#222" >2.5</text>
<text x="207.10" y="309.60" font-size="6.6" stroke="#222" stroke-width="0.25" text-anchor="middle" fill="#222" >5</text>
<text x="230.95" y="309.60" font-size="6.6" stroke="#222" stroke-width="0.25" text-anchor="middle" fill="#222" >7.5</text>
<text x="254.80" y="309.60" font-size="6.6" stroke="#222" stroke-width="0.25" text-anchor="middle" fill="#222" >10</text>
<polyline points="159.40,210.00 168.94,217.97 183.25,225.91 207.10,228.91 254.80,227.68" fill="none" stroke="#000" stroke-width="1.3" stroke-dasharray="2.1,1.5"/>
<polyline points="159.40,210.00 168.94,225.47 183.25,240.02 207.10,251.49 254.80,262.96" fill="none" stroke="#111" stroke-width="1.3"/>
<line x1="168.94" y1="216.21" x2="168.94" y2="219.74" stroke="#555" stroke-width="1.15" />
<line x1="167.84" y1="216.21" x2="170.04" y2="216.21" stroke="#222" stroke-width="1" />
<line x1="167.84" y1="219.74" x2="170.04" y2="219.74" stroke="#222" stroke-width="1" />
<line x1="183.25" y1="224.15" x2="183.25" y2="227.68" stroke="#555" stroke-width="1.15" />
<line x1="182.15" y1="224.15" x2="184.35" y2="224.15" stroke="#222" stroke-width="1" />
<line x1="182.15" y1="227.68" x2="184.35" y2="227.68" stroke="#222" stroke-width="1" />
<line x1="207.10" y1="223.88" x2="207.10" y2="233.94" stroke="#555" stroke-width="1.15" />
<line x1="206.00" y1="223.88" x2="208.20" y2="223.88" stroke="#222" stroke-width="1" />
<line x1="206.00" y1="233.94" x2="208.20" y2="233.94" stroke="#222" stroke-width="1" />
<line x1="254.80" y1="217.71" x2="254.80" y2="237.64" stroke="#555" stroke-width="1.15" />
<line x1="253.70" y1="217.71" x2="255.90" y2="217.71" stroke="#222" stroke-width="1" />
<line x1="253.70" y1="237.64" x2="255.90" y2="237.64" stroke="#222" stroke-width="1" />
<line x1="168.94" y1="223.71" x2="168.94" y2="227.24" stroke="#555" stroke-width="1.15" />
<line x1="167.84" y1="223.71" x2="170.04" y2="223.71" stroke="#222" stroke-width="1" />
<line x1="167.84" y1="227.24" x2="170.04" y2="227.24" stroke="#222" stroke-width="1" />
<line x1="183.25" y1="235.61" x2="183.25" y2="244.43" stroke="#555" stroke-width="1.15" />
<line x1="182.15" y1="235.61" x2="184.35" y2="235.61" stroke="#222" stroke-width="1" />
<line x1="182.15" y1="244.43" x2="184.35" y2="244.43" stroke="#222" stroke-width="1" />
<line x1="207.10" y1="243.90" x2="207.10" y2="259.08" stroke="#555" stroke-width="1.15" />
<line x1="206.00" y1="243.90" x2="208.20" y2="243.90" stroke="#222" stroke-width="1" />
<line x1="206.00" y1="259.08" x2="208.20" y2="259.08" stroke="#222" stroke-width="1" />
<line x1="254.80" y1="259.16" x2="254.80" y2="266.75" stroke="#555" stroke-width="1.15" />
<line x1="253.70" y1="259.16" x2="255.90" y2="259.16" stroke="#222" stroke-width="1" />
<line x1="253.70" y1="266.75" x2="255.90" y2="266.75" stroke="#222" stroke-width="1" />
<circle cx="168.94" cy="217.97" r="2.05" fill="#fff" stroke="#111" stroke-width="1.05"/>
<circle cx="183.25" cy="225.91" r="2.05" fill="#fff" stroke="#111" stroke-width="1.05"/>
<circle cx="207.10" cy="228.91" r="2.05" fill="#fff" stroke="#111" stroke-width="1.05"/>
<circle cx="254.80" cy="227.68" r="2.05" fill="#fff" stroke="#111" stroke-width="1.05"/>
<rect x="157.40" y="208.00" width="4.0" height="4.0" fill="#111"/>
<rect x="166.94" y="223.47" width="4.0" height="4.0" fill="#111"/>
<rect x="181.25" y="238.02" width="4.0" height="4.0" fill="#111"/>
<rect x="205.10" y="249.49" width="4.0" height="4.0" fill="#111"/>
<rect x="252.80" y="260.96" width="4.0" height="4.0" fill="#111"/>
<polygon points="204.90,263.00 205.58,264.37 207.09,264.59 205.99,265.66 206.25,267.16 204.90,266.45 203.55,267.16 203.81,265.66 202.71,264.59 204.22,264.37" fill="#111"/>
<polygon points="209.30,263.00 209.98,264.37 211.49,264.59 210.39,265.66 210.65,267.16 209.30,266.45 207.95,267.16 208.21,265.66 207.11,264.59 208.62,264.37" fill="#111"/>
<polygon points="250.40,271.60 251.08,272.97 252.59,273.19 251.49,274.26 251.75,275.76 250.40,275.05 249.05,275.76 249.31,274.26 248.21,273.19 249.72,272.97" fill="#111"/>
<polygon points="254.80,271.60 255.48,272.97 256.99,273.19 255.89,274.26 256.15,275.76 254.80,275.05 253.45,275.76 253.71,274.26 252.61,273.19 254.12,272.97" fill="#111"/>
<polygon points="259.20,271.60 259.88,272.97 261.39,273.19 260.29,274.26 260.55,275.76 259.20,275.05 257.85,275.76 258.11,274.26 257.01,273.19 258.52,272.97" fill="#111"/>
<text x="209.30" y="188.50" font-size="9" stroke="#111" stroke-width="0.15" font-weight="bold" text-anchor="middle" >Fludarabine</text>
<text x="213.45" y="318.50" font-size="7.6" stroke="#111" stroke-width="0.2" font-weight="bold" text-anchor="middle" >[Fludarabine] μM</text>
<line x1="280.00" y1="195.86" x2="280.00" y2="300.30" stroke="#3a3a3a" stroke-width="1" />
<line x1="279.50" y1="299.80" x2="380.80" y2="299.80" stroke="#3a3a3a" stroke-width="1" />
<line x1="278.00" y1="299.80" x2="280.00" y2="299.80" stroke="#3a3a3a" stroke-width="0.8" />
<line x1="278.00" y1="282.56" x2="280.00" y2="282.56" stroke="#3a3a3a" stroke-width="0.8" />
<line x1="278.00" y1="265.32" x2="280.00" y2="265.32" stroke="#3a3a3a" stroke-width="0.8" />
<line x1="278.00" y1="248.08" x2="280.00" y2="248.08" stroke="#3a3a3a" stroke-width="0.8" />
<line x1="278.00" y1="230.84" x2="280.00" y2="230.84" stroke="#3a3a3a" stroke-width="0.8" />
<line x1="278.00" y1="213.60" x2="280.00" y2="213.60" stroke="#3a3a3a" stroke-width="0.8" />
<line x1="278.00" y1="196.36" x2="280.00" y2="196.36" stroke="#3a3a3a" stroke-width="0.8" />
<line x1="280.00" y1="299.80" x2="280.00" y2="301.80" stroke="#3a3a3a" stroke-width="0.8" />
<line x1="305.07" y1="299.80" x2="305.07" y2="301.80" stroke="#3a3a3a" stroke-width="0.8" />
<line x1="330.15" y1="299.80" x2="330.15" y2="301.80" stroke="#3a3a3a" stroke-width="0.8" />
<line x1="355.23" y1="299.80" x2="355.23" y2="301.80" stroke="#3a3a3a" stroke-width="0.8" />
<line x1="380.30" y1="299.80" x2="380.30" y2="301.80" stroke="#3a3a3a" stroke-width="0.8" />
<text x="280.00" y="309.60" font-size="6.6" stroke="#222" stroke-width="0.25" text-anchor="middle" fill="#222" >0</text>
<text x="305.07" y="309.60" font-size="6.6" stroke="#222" stroke-width="0.25" text-anchor="middle" fill="#222" >0.5</text>
<text x="330.15" y="309.60" font-size="6.6" stroke="#222" stroke-width="0.25" text-anchor="middle" fill="#222" >1</text>
<text x="355.23" y="309.60" font-size="6.6" stroke="#222" stroke-width="0.25" text-anchor="middle" fill="#222" >1.5</text>
<text x="380.30" y="309.60" font-size="6.6" stroke="#222" stroke-width="0.25" text-anchor="middle" fill="#222" >2</text>
<polyline points="280.00,213.60 292.54,215.77 305.07,214.18 330.15,224.15 380.30,238.26" fill="none" stroke="#000" stroke-width="1.3" stroke-dasharray="2.1,1.5"/>
<polyline points="280.00,213.60 292.54,233.23 305.07,244.88 330.15,257.84 380.30,272.22" fill="none" stroke="#111" stroke-width="1.3"/>
<line x1="292.54" y1="211.18" x2="292.54" y2="220.36" stroke="#555" stroke-width="1.15" />
<line x1="291.44" y1="211.18" x2="293.64" y2="211.18" stroke="#222" stroke-width="1" />
<line x1="291.44" y1="220.36" x2="293.64" y2="220.36" stroke="#222" stroke-width="1" />
<line x1="305.07" y1="209.15" x2="305.07" y2="219.21" stroke="#555" stroke-width="1.15" />
<line x1="303.97" y1="209.15" x2="306.18" y2="209.15" stroke="#222" stroke-width="1" />
<line x1="303.97" y1="219.21" x2="306.18" y2="219.21" stroke="#222" stroke-width="1" />
<line x1="330.15" y1="216.21" x2="330.15" y2="232.09" stroke="#555" stroke-width="1.15" />
<line x1="329.05" y1="216.21" x2="331.25" y2="216.21" stroke="#222" stroke-width="1" />
<line x1="329.05" y1="232.09" x2="331.25" y2="232.09" stroke="#222" stroke-width="1" />
<line x1="380.30" y1="230.32" x2="380.30" y2="246.20" stroke="#555" stroke-width="1.15" />
<line x1="379.20" y1="230.32" x2="381.40" y2="230.32" stroke="#222" stroke-width="1" />
<line x1="379.20" y1="246.20" x2="381.40" y2="246.20" stroke="#222" stroke-width="1" />
<line x1="292.54" y1="223.71" x2="292.54" y2="242.76" stroke="#555" stroke-width="1.15" />
<line x1="291.44" y1="223.71" x2="293.64" y2="223.71" stroke="#222" stroke-width="1" />
<line x1="291.44" y1="242.76" x2="293.64" y2="242.76" stroke="#222" stroke-width="1" />
<line x1="305.07" y1="232.88" x2="305.07" y2="256.87" stroke="#555" stroke-width="1.15" />
<line x1="303.97" y1="232.88" x2="306.18" y2="232.88" stroke="#222" stroke-width="1" />
<line x1="303.97" y1="256.87" x2="306.18" y2="256.87" stroke="#222" stroke-width="1" />
<line x1="330.15" y1="248.31" x2="330.15" y2="267.37" stroke="#555" stroke-width="1.15" />
<line x1="329.05" y1="248.31" x2="331.25" y2="248.31" stroke="#222" stroke-width="1" />
<line x1="329.05" y1="267.37" x2="331.25" y2="267.37" stroke="#222" stroke-width="1" />
<line x1="380.30" y1="263.84" x2="380.30" y2="280.60" stroke="#555" stroke-width="1.15" />
<line x1="379.20" y1="263.84" x2="381.40" y2="263.84" stroke="#222" stroke-width="1" />
<line x1="379.20" y1="280.60" x2="381.40" y2="280.60" stroke="#222" stroke-width="1" />
<circle cx="292.54" cy="215.77" r="2.05" fill="#fff" stroke="#111" stroke-width="1.05"/>
<circle cx="305.07" cy="214.18" r="2.05" fill="#fff" stroke="#111" stroke-width="1.05"/>
<circle cx="330.15" cy="224.15" r="2.05" fill="#fff" stroke="#111" stroke-width="1.05"/>
<circle cx="380.30" cy="238.26" r="2.05" fill="#fff" stroke="#111" stroke-width="1.05"/>
<rect x="278.00" y="211.60" width="4.0" height="4.0" fill="#111"/>
<rect x="290.54" y="231.23" width="4.0" height="4.0" fill="#111"/>
<rect x="303.07" y="242.88" width="4.0" height="4.0" fill="#111"/>
<rect x="328.15" y="255.84" width="4.0" height="4.0" fill="#111"/>
<rect x="378.30" y="270.22" width="4.0" height="4.0" fill="#111"/>
<polygon points="305.07,259.50 305.75,260.87 307.26,261.09 306.17,262.16 306.43,263.66 305.07,262.95 303.72,263.66 303.98,262.16 302.89,261.09 304.40,260.87" fill="#111"/>
<polygon points="330.15,270.20 330.83,271.57 332.34,271.79 331.24,272.86 331.50,274.36 330.15,273.65 328.80,274.36 329.06,272.86 327.96,271.79 329.47,271.57" fill="#111"/>
<polygon points="380.30,283.70 380.98,285.07 382.49,285.29 381.39,286.36 381.65,287.86 380.30,287.15 378.95,287.86 379.21,286.36 378.11,285.29 379.62,285.07" fill="#111"/>
<text x="332.10" y="188.10" font-size="9" stroke="#111" stroke-width="0.15" font-weight="bold" text-anchor="middle" >4HC</text>
<text x="332.30" y="319.10" font-size="7.6" stroke="#111" stroke-width="0.2" font-weight="bold" text-anchor="middle" >[4HC] μM</text>
<line x1="401.80" y1="194.14" x2="401.80" y2="300.50" stroke="#3a3a3a" stroke-width="1" />
<line x1="401.30" y1="300.00" x2="498.90" y2="300.00" stroke="#3a3a3a" stroke-width="1" />
<line x1="399.80" y1="300.00" x2="401.80" y2="300.00" stroke="#3a3a3a" stroke-width="0.8" />
<line x1="399.80" y1="282.44" x2="401.80" y2="282.44" stroke="#3a3a3a" stroke-width="0.8" />
<line x1="399.80" y1="264.88" x2="401.80" y2="264.88" stroke="#3a3a3a" stroke-width="0.8" />
<line x1="399.80" y1="247.32" x2="401.80" y2="247.32" stroke="#3a3a3a" stroke-width="0.8" />
<line x1="399.80" y1="229.76" x2="401.80" y2="229.76" stroke="#3a3a3a" stroke-width="0.8" />
<line x1="399.80" y1="212.20" x2="401.80" y2="212.20" stroke="#3a3a3a" stroke-width="0.8" />
<line x1="399.80" y1="194.64" x2="401.80" y2="194.64" stroke="#3a3a3a" stroke-width="0.8" />
<line x1="401.80" y1="300.00" x2="401.80" y2="302.00" stroke="#3a3a3a" stroke-width="0.8" />
<line x1="425.95" y1="300.00" x2="425.95" y2="302.00" stroke="#3a3a3a" stroke-width="0.8" />
<line x1="450.10" y1="300.00" x2="450.10" y2="302.00" stroke="#3a3a3a" stroke-width="0.8" />
<line x1="474.25" y1="300.00" x2="474.25" y2="302.00" stroke="#3a3a3a" stroke-width="0.8" />
<line x1="498.40" y1="300.00" x2="498.40" y2="302.00" stroke="#3a3a3a" stroke-width="0.8" />
<text x="401.80" y="309.60" font-size="6.6" stroke="#222" stroke-width="0.25" text-anchor="middle" fill="#222" >0</text>
<text x="425.95" y="309.60" font-size="6.6" stroke="#222" stroke-width="0.25" text-anchor="middle" fill="#222" >25</text>
<text x="450.10" y="309.60" font-size="6.6" stroke="#222" stroke-width="0.25" text-anchor="middle" fill="#222" >50</text>
<text x="474.25" y="309.60" font-size="6.6" stroke="#222" stroke-width="0.25" text-anchor="middle" fill="#222" >75</text>
<text x="498.40" y="309.60" font-size="6.6" stroke="#222" stroke-width="0.25" text-anchor="middle" fill="#222" >100</text>
<polyline points="401.80,212.20 411.46,210.92 425.95,209.59 450.10,204.39 498.40,203.51" fill="none" stroke="#000" stroke-width="1.3" stroke-dasharray="2.1,1.5"/>
<polyline points="401.80,212.20 411.46,221.59 425.95,234.20 450.10,238.52 498.40,256.16" fill="none" stroke="#111" stroke-width="1.3"/>
<line x1="411.46" y1="209.15" x2="411.46" y2="212.68" stroke="#555" stroke-width="1.15" />
<line x1="410.36" y1="209.15" x2="412.56" y2="209.15" stroke="#222" stroke-width="1" />
<line x1="410.36" y1="212.68" x2="412.56" y2="212.68" stroke="#222" stroke-width="1" />
<line x1="425.95" y1="206.77" x2="425.95" y2="212.42" stroke="#555" stroke-width="1.15" />
<line x1="424.85" y1="206.77" x2="427.05" y2="206.77" stroke="#222" stroke-width="1" />
<line x1="424.85" y1="212.42" x2="427.05" y2="212.42" stroke="#222" stroke-width="1" />
<line x1="450.10" y1="200.69" x2="450.10" y2="208.10" stroke="#555" stroke-width="1.15" />
<line x1="449.00" y1="200.69" x2="451.20" y2="200.69" stroke="#222" stroke-width="1" />
<line x1="449.00" y1="208.10" x2="451.20" y2="208.10" stroke="#222" stroke-width="1" />
<line x1="498.40" y1="198.13" x2="498.40" y2="208.89" stroke="#555" stroke-width="1.15" />
<line x1="497.30" y1="198.13" x2="499.50" y2="198.13" stroke="#222" stroke-width="1" />
<line x1="497.30" y1="208.89" x2="499.50" y2="208.89" stroke="#222" stroke-width="1" />
<line x1="411.46" y1="218.06" x2="411.46" y2="225.12" stroke="#555" stroke-width="1.15" />
<line x1="410.36" y1="218.06" x2="412.56" y2="218.06" stroke="#222" stroke-width="1" />
<line x1="410.36" y1="225.12" x2="412.56" y2="225.12" stroke="#222" stroke-width="1" />
<line x1="425.95" y1="225.47" x2="425.95" y2="242.93" stroke="#555" stroke-width="1.15" />
<line x1="424.85" y1="225.47" x2="427.05" y2="225.47" stroke="#222" stroke-width="1" />
<line x1="424.85" y1="242.93" x2="427.05" y2="242.93" stroke="#222" stroke-width="1" />
<line x1="450.10" y1="232.44" x2="450.10" y2="244.61" stroke="#555" stroke-width="1.15" />
<line x1="449.00" y1="232.44" x2="451.20" y2="232.44" stroke="#222" stroke-width="1" />
<line x1="449.00" y1="244.61" x2="451.20" y2="244.61" stroke="#222" stroke-width="1" />
<line x1="498.40" y1="255.28" x2="498.40" y2="257.05" stroke="#555" stroke-width="1.15" />
<line x1="497.30" y1="255.28" x2="499.50" y2="255.28" stroke="#222" stroke-width="1" />
<line x1="497.30" y1="257.05" x2="499.50" y2="257.05" stroke="#222" stroke-width="1" />
<circle cx="411.46" cy="210.92" r="2.05" fill="#fff" stroke="#111" stroke-width="1.05"/>
<circle cx="425.95" cy="209.59" r="2.05" fill="#fff" stroke="#111" stroke-width="1.05"/>
<circle cx="450.10" cy="204.39" r="2.05" fill="#fff" stroke="#111" stroke-width="1.05"/>
<circle cx="498.40" cy="203.51" r="2.05" fill="#fff" stroke="#111" stroke-width="1.05"/>
<rect x="399.80" y="210.20" width="4.0" height="4.0" fill="#111"/>
<rect x="409.46" y="219.59" width="4.0" height="4.0" fill="#111"/>
<rect x="423.95" y="232.20" width="4.0" height="4.0" fill="#111"/>
<rect x="448.10" y="236.52" width="4.0" height="4.0" fill="#111"/>
<rect x="496.40" y="254.16" width="4.0" height="4.0" fill="#111"/>
<polygon points="423.75,244.70 424.43,246.07 425.94,246.29 424.84,247.36 425.10,248.86 423.75,248.15 422.40,248.86 422.66,247.36 421.56,246.29 423.07,246.07" fill="#111"/>
<polygon points="428.15,244.70 428.83,246.07 430.34,246.29 429.24,247.36 429.50,248.86 428.15,248.15 426.80,248.86 427.06,247.36 425.96,246.29 427.47,246.07" fill="#111"/>
<polygon points="445.70,248.70 446.38,250.07 447.89,250.29 446.79,251.36 447.05,252.86 445.70,252.15 444.35,252.86 444.61,251.36 443.51,250.29 445.02,250.07" fill="#111"/>
<polygon points="450.10,248.70 450.78,250.07 452.29,250.29 451.19,251.36 451.45,252.86 450.10,252.15 448.75,252.86 449.01,251.36 447.91,250.29 449.42,250.07" fill="#111"/>
<polygon points="454.50,248.70 455.18,250.07 456.69,250.29 455.59,251.36 455.85,252.86 454.50,252.15 453.15,252.86 453.41,251.36 452.31,250.29 453.82,250.07" fill="#111"/>
<polygon points="494.00,263.70 494.68,265.07 496.19,265.29 495.09,266.36 495.35,267.86 494.00,267.15 492.65,267.86 492.91,266.36 491.81,265.29 493.32,265.07" fill="#111"/>
<polygon points="498.40,263.70 499.08,265.07 500.59,265.29 499.49,266.36 499.75,267.86 498.40,267.15 497.05,267.86 497.31,266.36 496.21,265.29 497.72,265.07" fill="#111"/>
<polygon points="502.80,263.70 503.48,265.07 504.99,265.29 503.89,266.36 504.15,267.86 502.80,267.15 501.45,267.86 501.71,266.36 500.61,265.29 502.12,265.07" fill="#111"/>
<text x="451.80" y="191.60" font-size="9" stroke="#111" stroke-width="0.15" font-weight="bold" text-anchor="middle" >Bendamustine</text>
<text x="453.00" y="318.20" font-size="7.6" stroke="#111" stroke-width="0.2" font-weight="bold" text-anchor="middle" >[Bendamustine] μM</text>
<line x1="26.90" y1="358.70" x2="26.90" y2="499.80" stroke="#3a3a3a" stroke-width="1" />
<line x1="26.40" y1="499.30" x2="249.70" y2="499.30" stroke="#3a3a3a" stroke-width="1" />
<line x1="24.90" y1="499.30" x2="26.90" y2="499.30" stroke="#3a3a3a" stroke-width="0.8" />
<text x="20.90" y="501.30" font-size="7.0" stroke="#222" stroke-width="0.25" text-anchor="end" fill="#222" >0.0</text>
<line x1="24.90" y1="487.62" x2="26.90" y2="487.62" stroke="#3a3a3a" stroke-width="0.8" />
<text x="20.90" y="489.62" font-size="7.0" stroke="#222" stroke-width="0.25" text-anchor="end" fill="#222" >0.1</text>
<line x1="24.90" y1="475.95" x2="26.90" y2="475.95" stroke="#3a3a3a" stroke-width="0.8" />
<text x="20.90" y="477.95" font-size="7.0" stroke="#222" stroke-width="0.25" text-anchor="end" fill="#222" >0.2</text>
<line x1="24.90" y1="464.27" x2="26.90" y2="464.27" stroke="#3a3a3a" stroke-width="0.8" />
<text x="20.90" y="466.27" font-size="7.0" stroke="#222" stroke-width="0.25" text-anchor="end" fill="#222" >0.3</text>
<line x1="24.90" y1="452.60" x2="26.90" y2="452.60" stroke="#3a3a3a" stroke-width="0.8" />
<text x="20.90" y="454.60" font-size="7.0" stroke="#222" stroke-width="0.25" text-anchor="end" fill="#222" >0.4</text>
<line x1="24.90" y1="440.93" x2="26.90" y2="440.93" stroke="#3a3a3a" stroke-width="0.8" />
<text x="20.90" y="442.93" font-size="7.0" stroke="#222" stroke-width="0.25" text-anchor="end" fill="#222" >0.5</text>
<line x1="24.90" y1="429.25" x2="26.90" y2="429.25" stroke="#3a3a3a" stroke-width="0.8" />
<text x="20.90" y="431.25" font-size="7.0" stroke="#222" stroke-width="0.25" text-anchor="end" fill="#222" >0.6</text>
<line x1="24.90" y1="417.57" x2="26.90" y2="417.57" stroke="#3a3a3a" stroke-width="0.8" />
<text x="20.90" y="419.57" font-size="7.0" stroke="#222" stroke-width="0.25" text-anchor="end" fill="#222" >0.7</text>
<line x1="24.90" y1="405.90" x2="26.90" y2="405.90" stroke="#3a3a3a" stroke-width="0.8" />
<text x="20.90" y="407.90" font-size="7.0" stroke="#222" stroke-width="0.25" text-anchor="end" fill="#222" >0.8</text>
<line x1="24.90" y1="394.23" x2="26.90" y2="394.23" stroke="#3a3a3a" stroke-width="0.8" />
<text x="20.90" y="396.23" font-size="7.0" stroke="#222" stroke-width="0.25" text-anchor="end" fill="#222" >0.9</text>
<line x1="24.90" y1="382.55" x2="26.90" y2="382.55" stroke="#3a3a3a" stroke-width="0.8" />
<text x="20.90" y="384.55" font-size="7.0" stroke="#222" stroke-width="0.25" text-anchor="end" fill="#222" >1.0</text>
<line x1="24.90" y1="370.88" x2="26.90" y2="370.88" stroke="#3a3a3a" stroke-width="0.8" />
<text x="20.90" y="372.88" font-size="7.0" stroke="#222" stroke-width="0.25" text-anchor="end" fill="#222" >1.1</text>
<line x1="24.90" y1="359.20" x2="26.90" y2="359.20" stroke="#3a3a3a" stroke-width="0.8" />
<text x="20.90" y="361.20" font-size="7.0" stroke="#222" stroke-width="0.25" text-anchor="end" fill="#222" >1.2</text>
<line x1="26.90" y1="499.30" x2="26.90" y2="501.30" stroke="#3a3a3a" stroke-width="0.8" />
<text x="26.90" y="510.40" font-size="7.0" stroke="#222" stroke-width="0.25" text-anchor="middle" fill="#222" >0.0</text>
<line x1="71.36" y1="499.30" x2="71.36" y2="501.30" stroke="#3a3a3a" stroke-width="0.8" />
<text x="71.36" y="510.40" font-size="7.0" stroke="#222" stroke-width="0.25" text-anchor="middle" fill="#222" >0.2</text>
<line x1="115.82" y1="499.30" x2="115.82" y2="501.30" stroke="#3a3a3a" stroke-width="0.8" />
<text x="115.82" y="510.40" font-size="7.0" stroke="#222" stroke-width="0.25" text-anchor="middle" fill="#222" >0.4</text>
<line x1="160.28" y1="499.30" x2="160.28" y2="501.30" stroke="#3a3a3a" stroke-width="0.8" />
<text x="160.28" y="510.40" font-size="7.0" stroke="#222" stroke-width="0.25" text-anchor="middle" fill="#222" >0.6</text>
<line x1="204.74" y1="499.30" x2="204.74" y2="501.30" stroke="#3a3a3a" stroke-width="0.8" />
<text x="204.74" y="510.40" font-size="7.0" stroke="#222" stroke-width="0.25" text-anchor="middle" fill="#222" >0.8</text>
<line x1="249.20" y1="499.30" x2="249.20" y2="501.30" stroke="#3a3a3a" stroke-width="0.8" />
<text x="249.20" y="510.40" font-size="7.0" stroke="#222" stroke-width="0.25" text-anchor="middle" fill="#222" >1.0</text>
<line x1="26.90" y1="370.88" x2="251.50" y2="370.88" stroke="#666" stroke-width="1.2" stroke-dasharray="1.9,1.6"/>
<line x1="26.90" y1="394.23" x2="251.50" y2="394.23" stroke="#666" stroke-width="1.2" stroke-dasharray="1.9,1.6"/>
<text x="248.50" y="360.20" font-size="7.2" stroke="#111" stroke-width="0.15" font-weight="bold" text-anchor="end" font-style="italic" >Antagonistic</text>
<text x="248.50" y="380.80" font-size="7.2" stroke="#111" stroke-width="0.15" font-weight="bold" text-anchor="end" font-style="italic" >Additive</text>
<text x="248.50" y="402.00" font-size="7.2" stroke="#111" stroke-width="0.15" font-weight="bold" text-anchor="end" font-style="italic" >Synergistic</text>
<circle cx="81.3" cy="373.5" r="2.2" fill="#111"/>
<circle cx="95.4" cy="398.5" r="2.2" fill="#111"/>
<circle cx="115.8" cy="422.1" r="2.2" fill="#111"/>
<circle cx="171.7" cy="460" r="2.2" fill="#111"/>
<path d="M109.4,387.79999999999995 L111.9,392.29999999999995 L106.9,392.29999999999995 Z" fill="#fff" stroke="#222" stroke-width="0.9"/>
<path d="M104.9,391.4 L107.4,395.9 L102.4,395.9 Z" fill="#fff" stroke="#222" stroke-width="0.9"/>
<path d="M139.4,417.0 L141.9,421.5 L136.9,421.5 Z" fill="#fff" stroke="#222" stroke-width="0.9"/>
<path d="M185.6,432.4 L188.1,436.9 L183.1,436.9 Z" fill="#fff" stroke="#222" stroke-width="0.9"/>
<path d="M114.7,409 L118.7,413 M118.7,409 L114.7,413" stroke="#111" stroke-width="1.1"/>
<path d="M149.7,434.5 L153.7,438.5 M153.7,434.5 L149.7,438.5" stroke="#111" stroke-width="1.1"/>
<path d="M187.2,455.3 L191.2,459.3 M191.2,455.3 L187.2,459.3" stroke="#111" stroke-width="1.1"/>
<path d="M222.2,462.8 L226.2,466.8 M226.2,462.8 L222.2,466.8" stroke="#111" stroke-width="1.1"/>
<rect x="102.9" y="394.6" width="4" height="4" fill="#999" stroke="#555" stroke-width="0.9"/>
<rect x="120.1" y="445.1" width="4" height="4" fill="#999" stroke="#555" stroke-width="0.9"/>
<rect x="145.9" y="441.7" width="4" height="4" fill="#999" stroke="#555" stroke-width="0.9"/>
<rect x="188" y="465.9" width="4" height="4" fill="#999" stroke="#555" stroke-width="0.9"/>
<rect x="224" y="478.8" width="4" height="4" fill="#999" stroke="#555" stroke-width="0.9"/>
<text x="32.00" y="455.70" font-size="7.2" stroke="#111" stroke-width="0.15" font-weight="bold" >AZD6738 (1 μM) +</text>
<rect x="32.2" y="462.7" width="3.6" height="3.6" fill="#999" stroke="#555" stroke-width="0.8"/>
<path d="M34,471.59999999999997 L36.2,475.59999999999997 L31.8,475.59999999999997 Z" fill="#fff" stroke="#333" stroke-width="0.8"/>
<path d="M32.2,481.59999999999997 L35.8,485.2 M35.8,481.59999999999997 L32.2,485.2" stroke="#333" stroke-width="0.9"/>
<circle cx="34" cy="492.4" r="1.9" fill="#111"/>
<text x="37.20" y="466.90" font-size="6.6" stroke="#222" stroke-width="0.15" fill="#222" >Chlorambucil</text>
<text x="37.20" y="476.30" font-size="6.6" stroke="#222" stroke-width="0.15" fill="#222" >Fludarabine</text>
<text x="37.20" y="485.80" font-size="6.6" stroke="#222" stroke-width="0.15" fill="#222" >4HC</text>
<text x="37.20" y="494.80" font-size="6.6" stroke="#222" stroke-width="0.15" fill="#222" >Bendamustine</text>
<text x="132.7" y="353.3" font-size="10.3" font-weight="bold" text-anchor="middle" fill="#111">CII-<tspan font-style="italic">ATM</tspan>sh CLL cells</text>
<text x="132.50" y="520.60" font-size="7.4" stroke="#111" stroke-width="0.2" font-weight="bold" text-anchor="middle" >Fraction Affected</text>
<text x="0.00" y="0.00" font-size="7.6" stroke="#111" stroke-width="0.2" font-weight="bold" text-anchor="middle" transform="translate(5.6,427.8) rotate(-90)">Combination Index (CI)</text>
<line x1="289.30" y1="359.90" x2="289.30" y2="499.50" stroke="#3a3a3a" stroke-width="1" />
<line x1="288.80" y1="499.00" x2="514.50" y2="499.00" stroke="#3a3a3a" stroke-width="1" />
<line x1="287.30" y1="499.00" x2="289.30" y2="499.00" stroke="#3a3a3a" stroke-width="0.8" />
<text x="283.30" y="501.00" font-size="7.0" stroke="#222" stroke-width="0.25" text-anchor="end" fill="#222" >0.0</text>
<line x1="287.30" y1="487.45" x2="289.30" y2="487.45" stroke="#3a3a3a" stroke-width="0.8" />
<text x="283.30" y="489.45" font-size="7.0" stroke="#222" stroke-width="0.25" text-anchor="end" fill="#222" >0.1</text>
<line x1="287.30" y1="475.90" x2="289.30" y2="475.90" stroke="#3a3a3a" stroke-width="0.8" />
<text x="283.30" y="477.90" font-size="7.0" stroke="#222" stroke-width="0.25" text-anchor="end" fill="#222" >0.2</text>
<line x1="287.30" y1="464.35" x2="289.30" y2="464.35" stroke="#3a3a3a" stroke-width="0.8" />
<text x="283.30" y="466.35" font-size="7.0" stroke="#222" stroke-width="0.25" text-anchor="end" fill="#222" >0.3</text>
<line x1="287.30" y1="452.80" x2="289.30" y2="452.80" stroke="#3a3a3a" stroke-width="0.8" />
<text x="283.30" y="454.80" font-size="7.0" stroke="#222" stroke-width="0.25" text-anchor="end" fill="#222" >0.4</text>
<line x1="287.30" y1="441.25" x2="289.30" y2="441.25" stroke="#3a3a3a" stroke-width="0.8" />
<text x="283.30" y="443.25" font-size="7.0" stroke="#222" stroke-width="0.25" text-anchor="end" fill="#222" >0.5</text>
<line x1="287.30" y1="429.70" x2="289.30" y2="429.70" stroke="#3a3a3a" stroke-width="0.8" />
<text x="283.30" y="431.70" font-size="7.0" stroke="#222" stroke-width="0.25" text-anchor="end" fill="#222" >0.6</text>
<line x1="287.30" y1="418.15" x2="289.30" y2="418.15" stroke="#3a3a3a" stroke-width="0.8" />
<text x="283.30" y="420.15" font-size="7.0" stroke="#222" stroke-width="0.25" text-anchor="end" fill="#222" >0.7</text>
<line x1="287.30" y1="406.60" x2="289.30" y2="406.60" stroke="#3a3a3a" stroke-width="0.8" />
<text x="283.30" y="408.60" font-size="7.0" stroke="#222" stroke-width="0.25" text-anchor="end" fill="#222" >0.8</text>
<line x1="287.30" y1="395.05" x2="289.30" y2="395.05" stroke="#3a3a3a" stroke-width="0.8" />
<text x="283.30" y="397.05" font-size="7.0" stroke="#222" stroke-width="0.25" text-anchor="end" fill="#222" >0.9</text>
<line x1="287.30" y1="383.50" x2="289.30" y2="383.50" stroke="#3a3a3a" stroke-width="0.8" />
<text x="283.30" y="385.50" font-size="7.0" stroke="#222" stroke-width="0.25" text-anchor="end" fill="#222" >1.0</text>
<line x1="287.30" y1="371.95" x2="289.30" y2="371.95" stroke="#3a3a3a" stroke-width="0.8" />
<text x="283.30" y="373.95" font-size="7.0" stroke="#222" stroke-width="0.25" text-anchor="end" fill="#222" >1.1</text>
<line x1="287.30" y1="360.40" x2="289.30" y2="360.40" stroke="#3a3a3a" stroke-width="0.8" />
<text x="283.30" y="362.40" font-size="7.0" stroke="#222" stroke-width="0.25" text-anchor="end" fill="#222" >1.2</text>
<line x1="289.30" y1="499.00" x2="289.30" y2="501.00" stroke="#3a3a3a" stroke-width="0.8" />
<text x="289.30" y="510.10" font-size="7.0" stroke="#222" stroke-width="0.25" text-anchor="middle" fill="#222" >0.0</text>
<line x1="334.24" y1="499.00" x2="334.24" y2="501.00" stroke="#3a3a3a" stroke-width="0.8" />
<text x="334.24" y="510.10" font-size="7.0" stroke="#222" stroke-width="0.25" text-anchor="middle" fill="#222" >0.2</text>
<line x1="379.18" y1="499.00" x2="379.18" y2="501.00" stroke="#3a3a3a" stroke-width="0.8" />
<text x="379.18" y="510.10" font-size="7.0" stroke="#222" stroke-width="0.25" text-anchor="middle" fill="#222" >0.4</text>
<line x1="424.12" y1="499.00" x2="424.12" y2="501.00" stroke="#3a3a3a" stroke-width="0.8" />
<text x="424.12" y="510.10" font-size="7.0" stroke="#222" stroke-width="0.25" text-anchor="middle" fill="#222" >0.6</text>
<line x1="469.06" y1="499.00" x2="469.06" y2="501.00" stroke="#3a3a3a" stroke-width="0.8" />
<text x="469.06" y="510.10" font-size="7.0" stroke="#222" stroke-width="0.25" text-anchor="middle" fill="#222" >0.8</text>
<line x1="514.00" y1="499.00" x2="514.00" y2="501.00" stroke="#3a3a3a" stroke-width="0.8" />
<text x="514.00" y="510.10" font-size="7.0" stroke="#222" stroke-width="0.25" text-anchor="middle" fill="#222" >1.0</text>
<line x1="289.30" y1="371.95" x2="519.00" y2="371.95" stroke="#666" stroke-width="1.2" stroke-dasharray="1.9,1.6"/>
<line x1="289.30" y1="395.05" x2="519.00" y2="395.05" stroke="#666" stroke-width="1.2" stroke-dasharray="1.9,1.6"/>
<text x="510.50" y="362.50" font-size="7.2" stroke="#111" stroke-width="0.15" font-weight="bold" text-anchor="end" font-style="italic" >Antagonistic</text>
<text x="510.50" y="381.10" font-size="7.2" stroke="#111" stroke-width="0.15" font-weight="bold" text-anchor="end" font-style="italic" >Additive</text>
<text x="510.50" y="403.50" font-size="7.2" stroke="#111" stroke-width="0.15" font-weight="bold" text-anchor="end" font-style="italic" >Synergistic</text>
<circle cx="376.9" cy="371.5" r="2.2" fill="#111"/>
<circle cx="399.8" cy="395.6" r="2.2" fill="#111"/>
<circle cx="406.9" cy="411.3" r="2.2" fill="#111"/>
<circle cx="437.8" cy="451.8" r="2.2" fill="#111"/>
<path d="M388.3,373.7 L390.8,378.2 L385.8,378.2 Z" fill="#fff" stroke="#222" stroke-width="0.9"/>
<path d="M412.3,417.4 L414.8,421.9 L409.8,421.9 Z" fill="#fff" stroke="#222" stroke-width="0.9"/>
<path d="M427.3,431.09999999999997 L429.8,435.59999999999997 L424.8,435.59999999999997 Z" fill="#fff" stroke="#222" stroke-width="0.9"/>
<path d="M451.2,456.79999999999995 L453.7,461.29999999999995 L448.7,461.29999999999995 Z" fill="#fff" stroke="#222" stroke-width="0.9"/>
<path d="M395.5,384.9 L399.5,388.9 M399.5,384.9 L395.5,388.9" stroke="#111" stroke-width="1.1"/>
<path d="M415.7,417 L419.7,421 M419.7,417 L415.7,421" stroke="#111" stroke-width="1.1"/>
<path d="M439.7,448.6 L443.7,452.6 M443.7,448.6 L439.7,452.6" stroke="#111" stroke-width="1.1"/>
<path d="M463.6,466.7 L467.6,470.7 M467.6,466.7 L463.6,470.7" stroke="#111" stroke-width="1.1"/>
<rect x="402.6" y="410.3" width="4" height="4" fill="#999" stroke="#555" stroke-width="0.9"/>
<rect x="424.7" y="440.6" width="4" height="4" fill="#999" stroke="#555" stroke-width="0.9"/>
<rect x="447.8" y="462.6" width="4" height="4" fill="#999" stroke="#555" stroke-width="0.9"/>
<rect x="458" y="467" width="4" height="4" fill="#999" stroke="#555" stroke-width="0.9"/>
<text x="295.40" y="456.30" font-size="7.2" stroke="#111" stroke-width="0.15" font-weight="bold" >AZD6738 (1 μM) •</text>
<rect x="294.5" y="462.7" width="3.6" height="3.6" fill="#999" stroke="#555" stroke-width="0.8"/>
<path d="M296.3,471.4 L298.5,475.4 L294.1,475.4 Z" fill="#fff" stroke="#333" stroke-width="0.8"/>
<path d="M294.5,481.2 L298.1,484.8 M298.1,481.2 L294.5,484.8" stroke="#333" stroke-width="0.9"/>
<circle cx="296.3" cy="492.1" r="1.9" fill="#111"/>
<text x="299.70" y="466.90" font-size="6.6" stroke="#222" stroke-width="0.15" fill="#222" >Chlorambucil</text>
<text x="299.70" y="476.10" font-size="6.6" stroke="#222" stroke-width="0.15" fill="#222" >Fludarabine</text>
<text x="299.70" y="485.40" font-size="6.6" stroke="#222" stroke-width="0.15" fill="#222" >4HC</text>
<text x="299.70" y="494.50" font-size="6.6" stroke="#222" stroke-width="0.15" fill="#222" >Bendamustine</text>
<text x="392.9" y="352.3" font-size="10.3" font-weight="bold" text-anchor="middle" fill="#111">Mec1 CLL cells</text>
<text x="407.50" y="520.60" font-size="7.4" stroke="#111" stroke-width="0.2" font-weight="bold" text-anchor="middle" >Fraction Affected</text>
<text x="0.00" y="0.00" font-size="7.6" stroke="#111" stroke-width="0.2" font-weight="bold" text-anchor="middle" transform="translate(266.6,427.4) rotate(-90)">Combination Index (CI)</text>
<text x="190.8" y="9.3" font-size="9.8" font-weight="bold" fill="#111">CII-<tspan font-style="italic">ATM</tspan>sh CLL cells</text>
<text x="292.70" y="9.30" font-size="9.8" font-weight="bold" >(ATM defective)</text>
<text x="212.30" y="175.80" font-size="9.8" font-weight="bold" >Mec1 CLL cells</text>
<text x="291.00" y="175.80" font-size="9.8" font-weight="bold" >(p53 defective)</text>
<text x="9.90" y="11.00" font-size="11.6" font-weight="bold" >A</text>
<text x="9.00" y="184.10" font-size="11.6" font-weight="bold" >B</text>
<text x="9.20" y="345.90" font-size="11.6" font-weight="bold" >C</text>
<text x="263.10" y="345.70" font-size="11.6" font-weight="bold" >D</text>
<text x="0.00" y="0.00" font-size="8.4" stroke="#111" stroke-width="0.15" font-weight="bold" text-anchor="middle" transform="translate(15.6,76.6) rotate(-90)">Surviving Fraction</text>
<text x="0.00" y="0.00" font-size="8.4" stroke="#111" stroke-width="0.15" font-weight="bold" text-anchor="middle" transform="translate(14.6,245.5) rotate(-90)">Surviving Fraction</text>
<line x1="62.00" y1="34.20" x2="76.50" y2="34.20" stroke="#000" stroke-width="1.3" stroke-dasharray="2.1,1.5"/>
<circle cx="69.5" cy="34.2" r="2.05" fill="#fff" stroke="#111" stroke-width="1.05"/>
<text x="77.60" y="36.80" font-size="7.4" stroke="#111" stroke-width="0.15" >No AZD6738</text>
<line x1="62.00" y1="44.60" x2="76.50" y2="44.60" stroke="#111" stroke-width="1.3" />
<rect x="67.6" y="42.7" width="3.8" height="3.8" fill="#111"/>
<text x="77.60" y="47.20" font-size="7.4" stroke="#111" stroke-width="0.15" >With AZD6738 1 μM</text>
<line x1="44.20" y1="281.50" x2="58.20" y2="281.50" stroke="#000" stroke-width="1.3" stroke-dasharray="2.1,1.5"/>
<circle cx="51.0" cy="281.5" r="2.05" fill="#fff" stroke="#111" stroke-width="1.05"/>
<text x="59.50" y="284.10" font-size="7.4" stroke="#111" stroke-width="0.15" >No AZD6738</text>
<line x1="44.20" y1="292.00" x2="58.20" y2="292.00" stroke="#111" stroke-width="1.3" />
<rect x="49.1" y="290.1" width="3.8" height="3.8" fill="#111"/>
<text x="59.50" y="294.60" font-size="7.4" stroke="#111" stroke-width="0.15" >With AZD6738 1 μM</text>
</svg>
</body></html>
